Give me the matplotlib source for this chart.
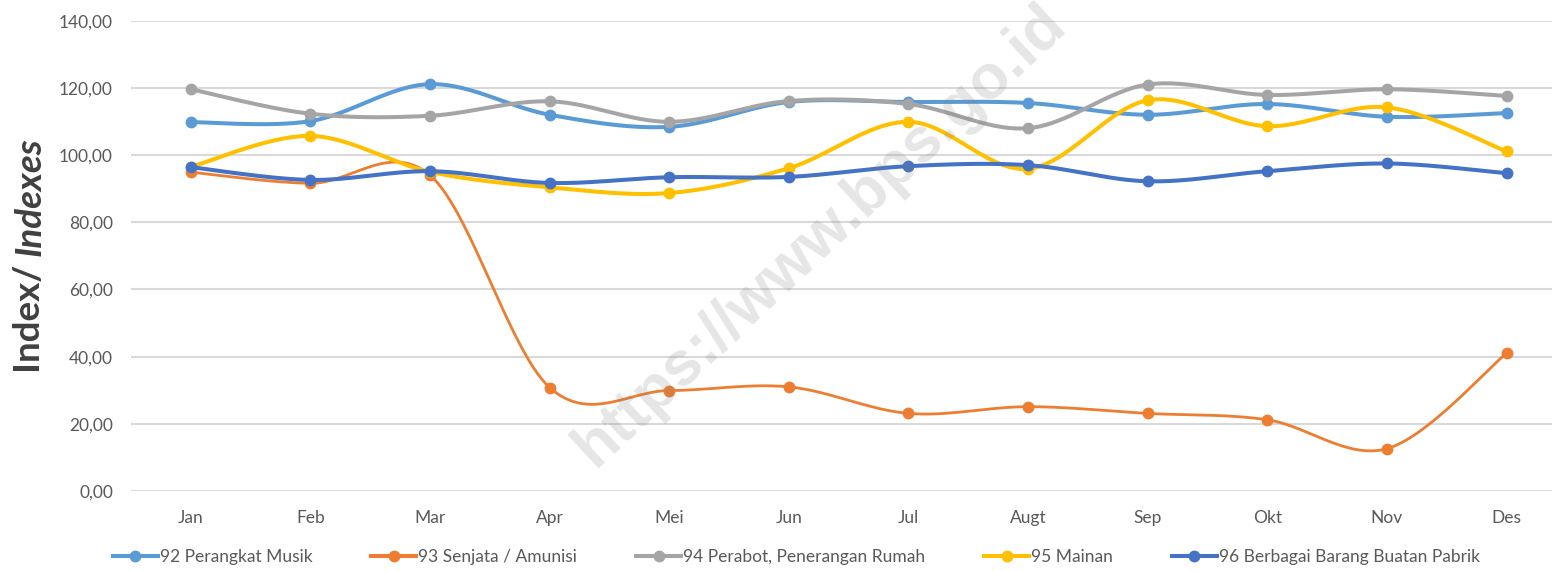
import numpy as np
import matplotlib.pyplot as plt
from matplotlib.lines import Line2D

plt.rcParams['font.family'] = ['Lato', 'DejaVu Sans']

months = ['Jan', 'Feb', 'Mar', 'Apr', 'Mei', 'Jun', 'Jul', 'Augt', 'Sep', 'Okt', 'Nov', 'Des']

musik = [109.8, 110.1, 121.1, 112.0, 108.4, 115.8, 115.8, 115.5, 112.0, 115.2, 111.4, 112.5]
senjata = [94.9, 91.6, 94.0, 30.8, 29.9, 31.0, 23.1, 25.1, 23.1, 21.2, 12.6, 41.0]
perabot = [119.6, 112.3, 111.7, 116.0, 109.9, 116.1, 115.2, 108.0, 121.0, 117.9, 119.6, 117.6]
mainan = [96.5, 105.7, 95.0, 90.4, 88.7, 96.1, 109.9, 95.9, 116.3, 108.6, 114.2, 101.1]
pabrik = [96.4, 92.6, 95.2, 91.7, 93.4, 93.5, 96.7, 97.0, 92.2, 95.2, 97.5, 94.6]

series = [
    ('92 Perangkat Musik', musik, '#5B9BD5', 2.9),
    ('93 Senjata / Amunisi', senjata, '#ED7D31', 2.0),
    ('94 Perabot, Penerangan Rumah', perabot, '#A5A5A5', 2.9),
    ('95 Mainan', mainan, '#FFC000', 2.9),
    ('96 Berbagai Barang Buatan Pabrik', pabrik, '#4472C4', 2.9),
]


def smooth(x, y, n=30):
    # catmull-rom style bezier, roughly what excel does for smoothed lines
    x = np.asarray(x, float)
    y = np.asarray(y, float)
    px = np.concatenate([[x[0]], x, [x[-1]]])
    py = np.concatenate([[y[0]], y, [y[-1]]])
    t = np.linspace(0, 1, n)[:, None]
    xs, ys = [], []
    for i in range(1, len(x)):
        p0 = np.array([px[i], py[i]])
        p3 = np.array([px[i + 1], py[i + 1]])
        c1 = p0 + (np.array([px[i + 1], py[i + 1]]) - np.array([px[i - 1], py[i - 1]])) / 6
        c2 = p3 - (np.array([px[i + 2], py[i + 2]]) - np.array([px[i], py[i]])) / 6
        b = ((1 - t) ** 3) * p0 + 3 * ((1 - t) ** 2) * t * c1 + 3 * (1 - t) * t ** 2 * c2 + t ** 3 * p3
        xs.append(b[:, 0])
        ys.append(b[:, 1])
    return np.concatenate(xs), np.concatenate(ys)


fig = plt.figure(figsize=(15.52, 5.71), dpi=100)
ax = fig.add_axes([131 / 1552, 80 / 571, 1 - 131 / 1552, 470.3 / 571])

xpos = np.arange(len(months))
handles = []
for name, vals, col, lw in series:
    sx, sy = smooth(xpos, vals)
    ax.plot(sx, sy, color=col, lw=lw, solid_capstyle='round')
    ax.plot(xpos, vals, 'o', color=col, ms=7.5, mec=col)
    handles.append(Line2D([0], [0], color=col, lw=2.9, marker='o', ms=7.5, label=name))

ax.set_xlim(-0.5, 11.38)
ax.set_ylim(0, 140)
ax.set_yticks(np.arange(0, 141, 20))
ax.set_yticklabels(['%d,00' % v for v in range(0, 141, 20)])
ax.set_xticks(xpos)
ax.set_xticklabels(months)
ax.tick_params(axis='both', length=0, labelsize=12.5, labelcolor='#595959')
ax.tick_params(axis='y', pad=13)
ax.tick_params(axis='x', pad=14)
ax.grid(axis='y', color='#d9d9d9', lw=1.5)
ax.set_axisbelow(True)
for s in ax.spines.values():
    s.set_visible(False)

# y label: "Index/ " bold + "Indexes" bold italic
t1 = fig.text(30 / 1552, (571 - 373) / 571, 'Index/ ', rotation=90,
              fontsize=26.5, fontweight='bold', color='#404040', ha='center', va='bottom')
fig.canvas.draw()
bb = t1.get_window_extent()
fig.text(30 / 1552, bb.y1 / fig.bbox.height, 'Indexes', rotation=90, fontsize=26.5,
         fontweight='bold', fontstyle='italic', color='#404040', ha='center', va='bottom')

# watermark
fig.text(820 / 1552, 1 - 236 / 571, 'https://www.bps.go.id', rotation=43, fontsize=45,
         family='Liberation Sans', fontweight='bold', color='#808080', alpha=0.2,
         ha='center', va='center', zorder=10)

fig.legend(handles=handles, loc='center', bbox_to_anchor=(0.513, 0.024), ncol=5,
           frameon=False, fontsize=12.5, handlelength=2.6, handletextpad=0.1,
           columnspacing=3.4, labelcolor='#595959')

fig.savefig('out.png', dpi=100)
